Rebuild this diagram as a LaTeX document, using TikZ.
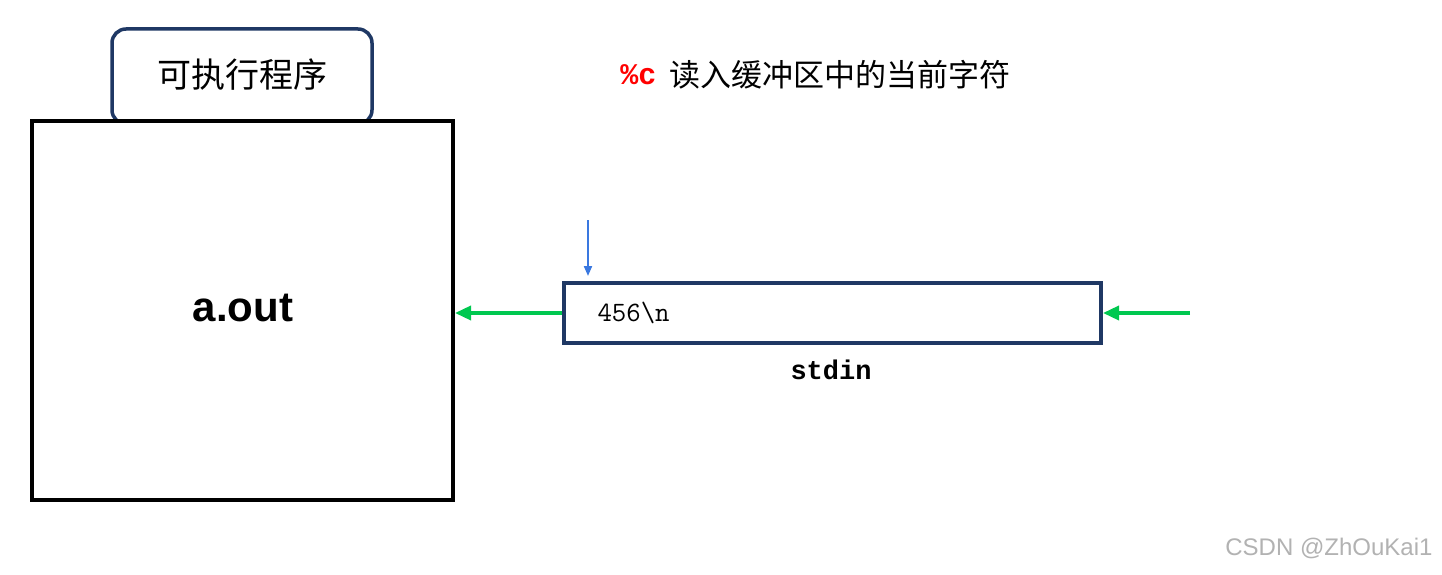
\documentclass[tikz,border=0pt]{standalone}
\usepackage{fontspec}
\setmainfont{Liberation Sans}
\setmonofont{Liberation Mono}
\newfontfamily\cjk{Noto Sans CJK SC}
\newfontfamily\lmmono{Latin Modern Mono}
\usetikzlibrary{arrows.meta}
\definecolor{navy}{HTML}{1F3864}
\definecolor{grn}{HTML}{00C850}
\definecolor{blu}{HTML}{3A78E0}
\tikzset{
  garrow/.style={grn,line width=3.5pt,-{Triangle[length=16pt,width=14pt]}},
}
\begin{document}
\begin{tikzpicture}[x=1pt,y=-1pt]
\useasboundingbox[fill=white] (0,0) rectangle (1442,575);
\draw[navy,line width=3.5pt,rounded corners=14pt,fill=white] (112,29) rectangle (372,124);
\node (tab) at (242,75) {\fontsize{34}{34}\selectfont\cjk 可执行程序};
\draw[black,line width=4pt,fill=white] (32,121) rectangle (453,500);
\node (big) at (243,308) {\fontsize{42}{42}\selectfont\bfseries a.out};
\coordinate (bigE) at (455,313);
\draw[navy,line width=4pt] (564,283) rectangle (1101,343);
\coordinate (bufW) at (562,313);
\coordinate (bufE) at (1103,313);
\coordinate (src) at (1190,313);
\node[anchor=west] (buf) at (594,313) {\fontsize{28}{28}\selectfont\lmmono 456\textbackslash n};
\node (stdin) at (831,370) {\fontsize{27}{27}\selectfont\ttfamily\bfseries stdin};
\draw[garrow] (bufW) -- (bigE);
\draw[garrow] (src) -- (bufE);
\coordinate (p1) at (588,220);
\coordinate (p2) at (588,276);
\draw[blu,line width=2pt,-{Triangle[length=10pt,width=8pt]}] (p1) -- (p2);
\node[anchor=east,red,font=\fontsize{30}{30}\selectfont\ttfamily\bfseries] (pc) at (660,75) {\%c};
\node[anchor=west] (desc) at (666,75) {\fontsize{31}{31}\selectfont\cjk 读入缓冲区中的当前字符};
\node[anchor=east,gray!60] (wm) at (1436,548) {\fontsize{24}{24}\selectfont CSDN @ZhOuKai1};
\end{tikzpicture}
\end{document}
